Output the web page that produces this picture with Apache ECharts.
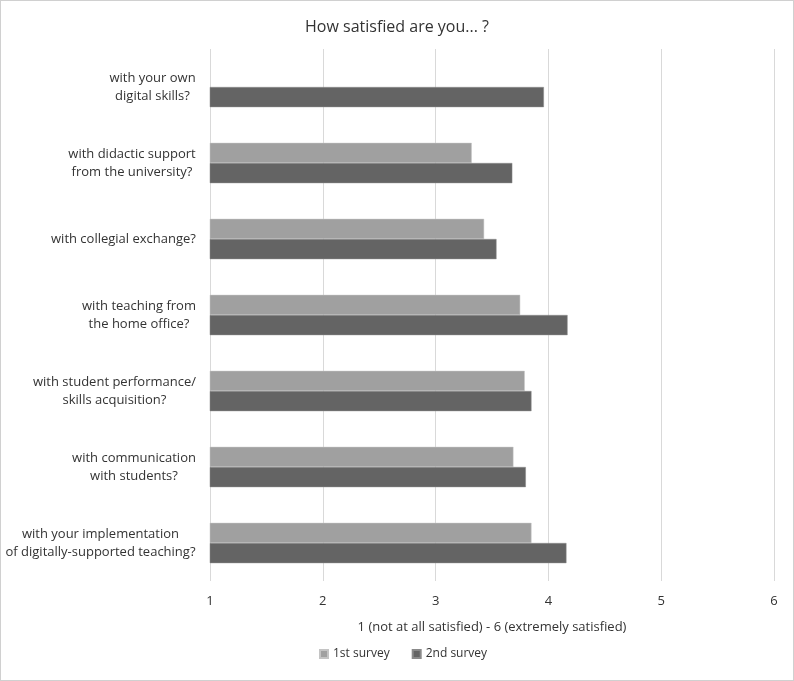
<!DOCTYPE html>
<html>
<head>
<meta charset="utf-8">
<script src="https://cdn.jsdelivr.net/npm/echarts@6/dist/echarts.min.js"></script>
<style>
  html, body { margin: 0; padding: 0; background: #fff; }
  #chart { width: 792px; height: 679px; border: 1px solid #d0d0d0; }
</style>
</head>
<body>
<div id="chart"></div>
<script>
// categories, top to bottom
const categories = [
  "with your own\ndigital skills?",
  "with didactic support\nfrom the university?",
  "with collegial exchange?",
  "with teaching from\nthe home office?",
  "with student performance/\nskills acquisition?",
  "with communication\nwith students?",
  "with your implementation\nof digitally-supported teaching?"
];
const firstSurvey = [null, 3.32, 3.43, 3.75, 3.79, 3.69, 3.85];
const secondSurvey = [3.96, 3.68, 3.54, 4.17, 3.85, 3.80, 4.16];
const xTicks = [1, 2, 3, 4, 5, 6];

const font = "'Open Sans', 'Noto Sans', sans-serif";
const labelSize = 13;

// lines of each label are centred inside a right-aligned block, like excel
const ctx = document.createElement("canvas").getContext("2d");
ctx.font = labelSize + "px " + font;
const rich = {};
categories.forEach((c, i) => {
  const w = Math.max(...c.split("\n").map(l => ctx.measureText(l).width));
  rich["c" + i] = {
    width: Math.ceil(w),
    align: "center",
    fontSize: labelSize,
    fontFamily: font,
    color: "#333",
    lineHeight: 18
  };
});

const chart = echarts.init(document.getElementById("chart"));

chart.setOption({
  animation: false,
  textStyle: { fontFamily: font },
  title: {
    text: "How satisfied are you... ?",
    left: "center",
    top: 13,
    textStyle: { fontSize: 16, fontWeight: "normal", color: "#333", fontFamily: font }
  },
  legend: {
    bottom: 15,
    left: 313,
    itemWidth: 8,
    itemHeight: 8,
    itemGap: 22,
    icon: "rect",
    textStyle: { fontSize: 12, color: "#333" },
    data: ["1st survey", "2nd survey"]
  },
  grid: { left: 209, right: 19, top: 48, bottom: 99 },
  xAxis: {
    type: "value",
    min: xTicks[0],
    max: xTicks[xTicks.length - 1],
    interval: 1,
    name: "1 (not at all satisfied) - 6 (extremely satisfied)",
    nameLocation: "middle",
    nameGap: 40,
    nameTextStyle: { fontSize: 13, color: "#333" },
    axisLine: { show: false },
    axisTick: { show: false },
    axisLabel: { fontSize: 13, color: "#333", margin: 14 },
    splitLine: { lineStyle: { color: "#d9d9d9", width: 1 } }
  },
  yAxis: {
    type: "category",
    inverse: true,
    data: categories,
    axisLine: { show: false },
    axisTick: { show: false },
    axisLabel: {
      align: "right",
      margin: 14,
      formatter: (v, i) => v.split("\n").map(l => "{c" + i + "|" + l + "}").join("\n"),
      rich: rich
    }
  },
  series: [
    {
      name: "1st survey",
      type: "bar",
      data: firstSurvey,
      barGap: "0%",
      barCategoryGap: "47%",
      itemStyle: { color: "#a0a0a0", borderColor: "#c4c4c4", borderWidth: 0.5 }
    },
    {
      name: "2nd survey",
      type: "bar",
      data: secondSurvey,
      barGap: "0%",
      barCategoryGap: "47%",
      itemStyle: { color: "#646464", borderColor: "#8a8a8a", borderWidth: 0.5 }
    }
  ]
});
</script>
</body>
</html>
